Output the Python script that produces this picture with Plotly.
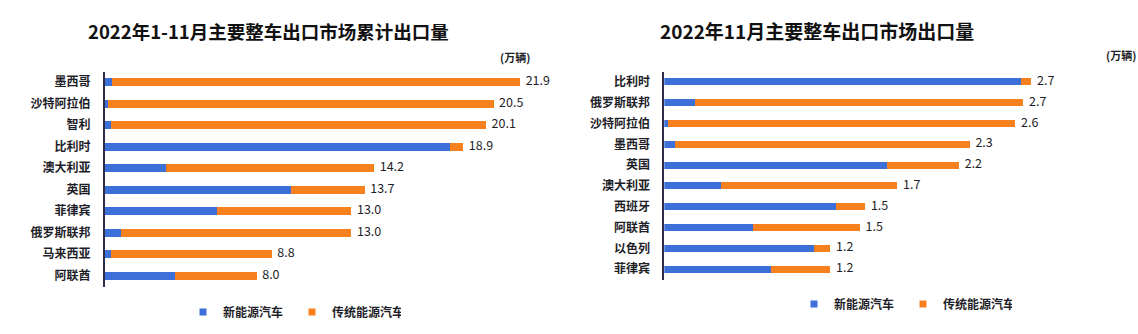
import plotly.graph_objects as go

W, H = 1138, 334

# ---------------- data ----------------
left_title = "2022年1-11月主要整车出口市场累计出口量"
left_cats = ["墨西哥", "沙特阿拉伯", "智利", "比利时", "澳大利亚", "英国", "菲律宾", "俄罗斯联邦", "马来西亚", "阿联酋"]
left_nev = [0.35, 0.15, 0.3, 18.2, 3.2, 9.8, 5.9, 0.85, 0.3, 3.7]
left_ice = [21.55, 20.35, 19.8, 0.7, 11.0, 3.9, 7.1, 12.15, 8.5, 4.3]

right_title = "2022年11月主要整车出口市场出口量"
right_cats = ["比利时", "俄罗斯联邦", "沙特阿拉伯", "墨西哥", "英国", "澳大利亚", "西班牙", "阿联酋", "以色列", "菲律宾"]
right_nev = [2.66, 0.23, 0.03, 0.08, 1.66, 0.42, 1.28, 0.66, 1.12, 0.80]
right_ice = [0.08, 2.45, 2.59, 2.20, 0.54, 1.32, 0.22, 0.80, 0.12, 0.44]

series_names = ["新能源汽车", "传统能源汽车"]
unit_label = "(万辆)"

# ---------------- style ----------------
FONT = "Noto Sans CJK SC"
BLUE = "#3c6fd8"
ORANGE = "#f7811f"
AXIS = "#2e2d4d"
TXT = "#1e1e28"

fig = go.Figure()


def add_panel(cats, nev, ice, xa, ya, legend, width):
    totals = [a + b for a, b in zip(nev, ice)]
    for name, vals, col in [(series_names[0], nev, BLUE), (series_names[1], ice, ORANGE)]:
        fig.add_trace(go.Bar(y=cats, x=vals, orientation="h", name=name,
                             marker=dict(color=col, line=dict(width=0)), width=width,
                             xaxis=xa, yaxis=ya, showlegend=False))
    # legend entries with small square symbols
    for name, col in [(series_names[0], BLUE), (series_names[1], ORANGE)]:
        fig.add_trace(go.Scatter(x=[None], y=[None], mode="markers", name=name,
                                 marker=dict(symbol="square", size=7, color=col),
                                 xaxis=xa, yaxis=ya, legend=legend, showlegend=True))
    fig.add_trace(go.Scatter(y=cats, x=totals, mode="text",
                             text=["  " + f"{t:.1f}" for t in totals],
                             textposition="middle right",
                             textfont=dict(family=FONT, size=12.5, color=TXT),
                             showlegend=False, xaxis=xa, yaxis=ya, cliponaxis=False,
                             hoverinfo="skip"))


add_panel(left_cats, left_nev, left_ice, "x", "y", "legend", 0.37)
add_panel(right_cats, right_nev, right_ice, "x2", "y2", "legend2", 0.34)

xcommon = dict(showgrid=False, zeroline=False, showline=False, showticklabels=False, ticks="")
ycommon = dict(showgrid=False, zeroline=False, showline=True, linecolor=AXIS, linewidth=2,
               ticks="", autorange="reversed", ticklabelstandoff=10,
               tickfont=dict(family=FONT, size=12, color=TXT, weight="bold"))

legfont = dict(family=FONT, size=12, color=TXT, weight="bold")

fig.update_layout(
    width=W, height=H,
    margin=dict(l=0, r=0, t=0, b=0),
    paper_bgcolor="white", plot_bgcolor="white",
    barmode="stack",
    font=dict(family=FONT, color=TXT),
    xaxis=dict(domain=[105 / W, 578.8 / W], range=[0, 25], anchor="y", **xcommon),
    yaxis=dict(domain=[1 - 286.5 / H, 1 - 71.5 / H], anchor="x", **ycommon),
    xaxis2=dict(domain=[664.3 / W, 1133.3 / W], range=[0, 3.5], anchor="y2", **xcommon),
    yaxis2=dict(domain=[1 - 279.5 / H, 1 - 71.5 / H], anchor="x2", **ycommon),
    legend=dict(orientation="h", x=183 / W, y=1 - 312 / H, xanchor="left", yanchor="middle",
                font=legfont, itemwidth=30, itemsizing="trace", entrywidth=64,
                bgcolor="rgba(0,0,0,0)", traceorder="normal"),
    legend2=dict(orientation="h", x=794 / W, y=1 - 304 / H, xanchor="left", yanchor="middle",
                 font=legfont, itemwidth=30, itemsizing="trace", entrywidth=64,
                 bgcolor="rgba(0,0,0,0)", traceorder="normal"),
    annotations=[
        dict(text="<b>" + left_title + "</b>", x=268 / W, y=1 - 31 / H, xref="paper", yref="paper",
             showarrow=False, xanchor="center", yanchor="middle",
             font=dict(family=FONT, size=18.5, color="#111")),
        dict(text="<b>" + right_title + "</b>", x=817 / W, y=1 - 30 / H, xref="paper", yref="paper",
             showarrow=False, xanchor="center", yanchor="middle",
             font=dict(family=FONT, size=19, color="#111")),
        dict(text="<b>" + unit_label + "</b>", x=515 / W, y=1 - 57 / H, xref="paper", yref="paper",
             showarrow=False, xanchor="center", yanchor="middle",
             font=dict(family=FONT, size=11, color=TXT)),
        dict(text="<b>" + unit_label + "</b>", x=1104 / W, y=1 - 55 / H, xref="paper", yref="paper",
             showarrow=False, xanchor="left", yanchor="middle",
             font=dict(family=FONT, size=11, color=TXT)),
    ],
)

fig.write_html("out.html")
